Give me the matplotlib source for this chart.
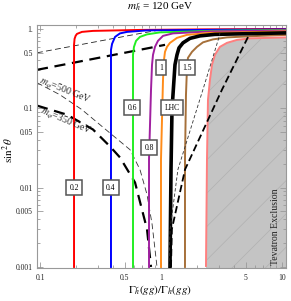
import matplotlib
matplotlib.use('Agg')
import matplotlib.pyplot as plt
from matplotlib.ticker import FixedLocator, FixedFormatter, NullFormatter, LogLocator

plt.rcParams['font.family'] = ['Liberation Serif', 'DejaVu Serif']
plt.rcParams['mathtext.fontset'] = 'stix'
plt.rcParams['hatch.linewidth'] = 0.5

# ---------------- data ----------------
red_x = [0.191, 0.191, 0.193, 0.197, 0.202, 0.222, 0.274, 0.67, 2.1, 10.8]
red_s = [0.001, 0.63, 0.75, 0.82, 0.865, 0.917, 0.944, 0.971, 0.986, 1.0]

blue_x = [0.386, 0.386, 0.394, 0.417, 0.458, 0.524, 0.766, 2.1, 10.8]
blue_s = [0.001, 0.545, 0.648, 0.793, 0.878, 0.917, 0.958, 0.971, 0.986]

green_x = [0.587, 0.587, 0.598, 0.622, 0.67, 0.766, 0.981, 2.54, 10.8]
green_s = [0.001, 0.471, 0.594, 0.707, 0.793, 0.853, 0.904, 0.944, 0.971]

purple_x = [0.796, 0.796, 0.827, 0.843, 0.859, 0.892, 0.944, 1.039, 1.256, 2.54, 10.8]
purple_s = [0.001, 0.0226, 0.171, 0.353, 0.471, 0.594, 0.707, 0.817, 0.878, 0.93, 0.958]

orange_x = [1.0, 1.0, 1.039, 1.059, 1.079, 1.121, 1.187, 1.356, 1.64, 2.54, 10.8]
orange_s = [0.001, 0.0226, 0.229, 0.408, 0.514, 0.594, 0.667, 0.771, 0.841, 0.891, 0.93]

lhc_x = [1.187, 1.21, 1.233, 1.305, 1.356, 1.409, 1.52, 1.736, 2.1, 2.79, 10.8]
lhc_s = [0.001, 0.0169, 0.096, 0.353, 0.471, 0.577, 0.667, 0.76, 0.817, 0.853, 0.891]

brown_x = [1.579, 1.579, 1.609, 1.64, 1.671, 1.804, 1.984, 2.224, 2.69, 3.51, 6.58, 10.8]
brown_s = [0.001, 0.0226, 0.148, 0.324, 0.432, 0.514, 0.594, 0.677, 0.738, 0.782, 0.817, 0.84]

tev_x = [2.354, 2.40, 2.446, 2.54, 2.64, 2.79, 3.07, 3.51, 4.25, 5.44, 10.8]
tev_s = [0.001, 0.0226, 0.128, 0.229, 0.353, 0.471, 0.594, 0.667, 0.727, 0.76, 0.782]

# dashed curves
thin_up_x = [0.0944, 0.71, 0.98]
thin_up_s = [0.50, 0.89, 0.97]
thick_up_x = [0.0944, 0.81, 1.08]
thick_up_s = [0.305, 0.577, 0.63]

m500_left_x = [0.0944, 0.146, 0.222, 0.365, 0.555, 0.67, 0.766, 0.843, 0.892, 0.927]
m500_left_s = [0.21, 0.148, 0.096, 0.051, 0.030, 0.0169, 0.0082, 0.0035, 0.00167, 0.001]
m500_right_x = [1.16, 1.19, 1.38, 2.22, 3.02, 3.07]
m500_right_s = [0.001, 0.003, 0.0169, 0.171, 0.79, 0.89]

m350_left_x = [0.0944, 0.167, 0.274, 0.379, 0.458, 0.61, 0.766, 0.827]
m350_left_s = [0.108, 0.083, 0.054, 0.033, 0.024, 0.0116, 0.003, 0.001]
m350_right_x = [1.21, 1.23, 1.58, 3.19, 5.24, 5.44]
m350_right_s = [0.001, 0.003, 0.0169, 0.171, 0.79, 0.89]

# box labels
lab_text = ['0.2', '0.4', '0.6', '0.8', '1', '1.5', 'LHC']
lab_x = [0.191, 0.386, 0.576, 0.796, 1.0, 1.64, 1.233]
lab_s = [0.01, 0.01, 0.102, 0.032, 0.324, 0.324, 0.102]

xtick_vals = [0.1, 0.5, 1, 5, 10]
xtick_labels = ['0.1', '0.5', '1', '5', '10']
ytick_vals = [0.001, 0.005, 0.01, 0.05, 0.1, 0.5, 1]
ytick_labels = ['0.001', '0.005', '0.01', '0.05', '0.1', '0.5', '1.']

# ---------------- figure ----------------
W, H = 291, 301
fig = plt.figure(figsize=(W / 100, H / 100), dpi=100)
L, R, T, B = 37, 286, 25, 268
ax = fig.add_axes([L / W, 1 - B / H, (R - L) / W, (B - T) / H])
ax.set_xscale('log')
ax.set_yscale('log')
ax.set_xlim(0.0944, 10.8)
ax.set_ylim(0.00097, 1.12)
xl = ax.get_xlim()
yl = ax.get_ylim()

# Tevatron exclusion region
poly_x = [tev_x[0]] + tev_x + [xl[1] * 1.01, xl[1] * 1.01]
poly_s = [yl[0] * 0.98] + tev_s + [tev_s[-1], yl[0] * 0.98]
ax.fill(poly_x, poly_s, facecolor='#c4c4c4', edgecolor='#b0b0b0', linewidth=0,
        hatch='/', zorder=1)
ax.plot(tev_x, tev_s, color='#ff7f7f', lw=1.4, zorder=4, solid_capstyle='butt')

# dashed lines
ax.plot(thin_up_x, thin_up_s, color='#222222', lw=0.6, dashes=(7, 4), zorder=2)
ax.plot(thick_up_x, thick_up_s, color='black', lw=1.6, dashes=(5, 3), zorder=2)
ax.plot(m500_left_x, m500_left_s, color='#333333', lw=0.6, dashes=(7, 4), zorder=2)
ax.plot(m500_right_x, m500_right_s, color='#333333', lw=0.6, dashes=(4, 2.5), zorder=5)
ax.plot(m350_left_x, m350_left_s, color='black', lw=1.6, dashes=(5, 3), zorder=2)
ax.plot(m350_right_x, m350_right_s, color='black', lw=1.3, dashes=(4, 2), zorder=5)

# contours
curves = [(red_x, red_s, '#ff0000', 1.4), (blue_x, blue_s, '#0000ff', 1.4),
          (green_x, green_s, '#22ee22', 1.4), (purple_x, purple_s, '#a020a0', 1.4),
          (orange_x, orange_s, '#ff8c1a', 1.4), (brown_x, brown_s, '#a6703a', 1.4),
          (lhc_x, lhc_s, 'black', 2.6)]
for cx, cs, col, lw in curves:
    ax.plot(cx, cs, color=col, lw=lw, zorder=3, solid_joinstyle='round')

# boxed labels
bbox = dict(boxstyle='square,pad=0.45', fc='white', ec='#555555', lw=1.1)
for t, x, s in zip(lab_text, lab_x, lab_s):
    ax.text(x, s, t, ha='center', va='center', fontsize=5.5, bbox=bbox, zorder=7)

# m_phi labels
ax.text(0.161, 0.162, r'$m_\varphi$=500 GeV', fontsize=7, rotation=-22,
        rotation_mode='anchor', ha='center', va='center', color='#222222', zorder=6)
ax.text(0.164, 0.068, r'$m_\varphi$=350 GeV', fontsize=7, rotation=-23,
        rotation_mode='anchor', ha='center', va='center', color='#222222', zorder=6)

ax.text(0.956, 0.169, 'Tevatron Exclusion', transform=ax.transAxes, rotation=90,
        ha='center', va='center', fontsize=7, color='#222222', zorder=6)

# ticks
ax.xaxis.set_major_locator(FixedLocator(xtick_vals))
ax.xaxis.set_major_formatter(FixedFormatter(xtick_labels))
ax.yaxis.set_major_locator(FixedLocator(ytick_vals))
ax.yaxis.set_major_formatter(FixedFormatter(ytick_labels))
ax.xaxis.set_minor_locator(LogLocator(base=10, subs=[2, 3, 4, 6, 7, 8, 9], numticks=20))
ax.yaxis.set_minor_locator(LogLocator(base=10, subs=[2, 3, 4, 6, 7, 8, 9], numticks=20))
ax.xaxis.set_minor_formatter(NullFormatter())
ax.yaxis.set_minor_formatter(NullFormatter())
ax.tick_params(which='both', direction='in', top=True, right=True, color='#999999',
               labelsize=5.5, labelcolor='#222222', width=0.6)
ax.tick_params(which='major', length=4)
ax.tick_params(which='minor', length=2)
ax.tick_params(axis='x', pad=4)
ax.tick_params(axis='y', pad=3)
for sp in ax.spines.values():
    sp.set_color('#999999')
    sp.set_linewidth(0.8)

fig.text(160 / W, 1 - 7 / H, r'$m_{\tilde{h}}$ = 120 GeV', ha='center', va='center', fontsize=8)
fig.text(160 / W, 1 - 290 / H, r'$\Gamma_{\tilde{h}}(gg)/\Gamma_h(gg)$', ha='center',
         va='center', fontsize=8)
fig.text(8 / W, 1 - 150 / H, r'$\sin^2\theta$', ha='center', va='center', fontsize=8,
         rotation=90)

fig.savefig('out.png', dpi=100)
